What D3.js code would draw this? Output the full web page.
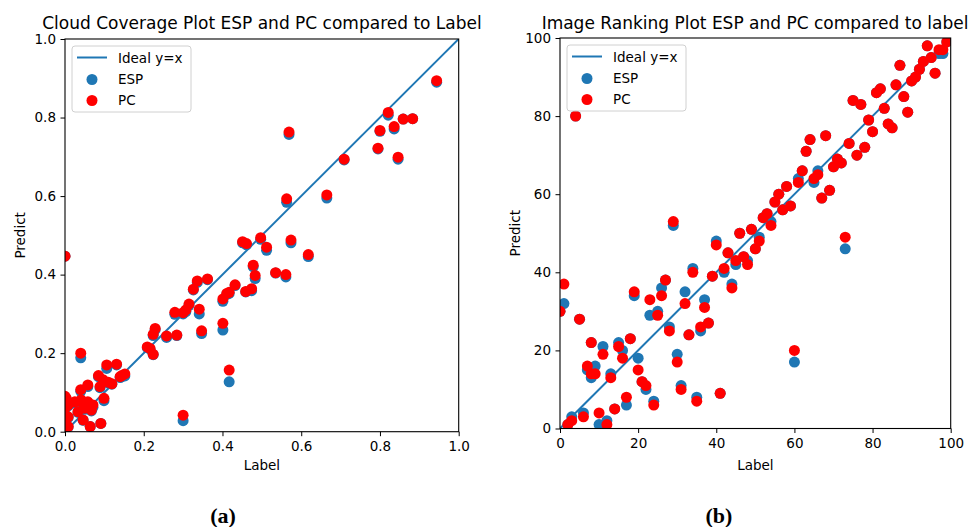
<!DOCTYPE html>
<html>
<head>
<meta charset="utf-8">
<script src="https://cdn.jsdelivr.net/npm/d3@7"></script>
<style>
  body { margin: 0; background: #fff; }
  svg text { font-family: "DejaVu Sans", sans-serif; fill: #000; }
  .caption { font-family: "Liberation Serif", serif; font-weight: bold; }
</style>
</head>
<body>
<script>
// (a) cloud coverage: label, ESP prediction, PC prediction
const labelA = [0.944, 0.821, 0.859, 0.883, 0.800, 0.836, 0.795, 0.846, 0.569, 0.709,
  0.563, 0.665, 0.574, 0.497, 0.451, 0.461, 0.512, 0.618, 0.478, 0.483,
  0.535, 0.561, 0.459, 0.474, 0.432, 0.411, 0.417, 0.401, 0.401, 0.417,
  0.362, 0.336, 0.326, 0.315, 0.341, 0.347, 0.300, 0.279, 0.229, 0.224,
  0.258, 0.284, 0.209, 0.216, 0.224, 0.040, 0.300, 0.106, 0.131, 0.144,
  0.152, 0.085, 0.097, 0.110, 0.119, 0.089, 0.058, 0.040, 0.099, 0.091,
  0.064, 0.008, 0.003, 0.008, 0.025, 0.041, 0.046, 0.058, 0.071, 0.050,
  0.067, 0.033, 0.008, 0.000, 0.046, 0.000, 0.000, 0.000, 0.000, 0.140,
  0.307];
const espA = [0.890, 0.806, 0.796, 0.797, 0.765, 0.771, 0.720, 0.694, 0.757, 0.692,
  0.584, 0.595, 0.481, 0.490, 0.481, 0.476, 0.462, 0.446, 0.420, 0.390,
  0.404, 0.394, 0.356, 0.359, 0.372, 0.350, 0.352, 0.332, 0.259, 0.127,
  0.387, 0.380, 0.361, 0.322, 0.300, 0.250, 0.300, 0.299, 0.260, 0.245,
  0.240, 0.245, 0.214, 0.210, 0.196, 0.188, 0.028, 0.161, 0.170, 0.140,
  0.142, 0.140, 0.128, 0.124, 0.121, 0.112, 0.115, 0.103, 0.079, 0.021,
  0.013, 0.012, 0.083, 0.066, 0.073, 0.078, 0.070, 0.073, 0.062, 0.057,
  0.053, 0.049, 0.036, 0.024, 0.029, 0.004, 0.447, 0.088, 0.058, 0.138,
  0.306];
const pcA = [0.894, 0.813, 0.796, 0.797, 0.767, 0.777, 0.722, 0.699, 0.763, 0.694,
  0.593, 0.603, 0.488, 0.494, 0.484, 0.479, 0.470, 0.451, 0.424, 0.398,
  0.405, 0.400, 0.357, 0.364, 0.374, 0.352, 0.355, 0.338, 0.276, 0.157,
  0.389, 0.384, 0.363, 0.325, 0.312, 0.257, 0.303, 0.304, 0.263, 0.248,
  0.244, 0.246, 0.216, 0.212, 0.197, 0.200, 0.042, 0.170, 0.172, 0.143,
  0.147, 0.143, 0.132, 0.126, 0.122, 0.115, 0.119, 0.107, 0.085, 0.021,
  0.013, 0.013, 0.085, 0.068, 0.076, 0.081, 0.072, 0.076, 0.068, 0.060,
  0.055, 0.051, 0.038, 0.025, 0.030, 0.004, 0.447, 0.090, 0.060, 0.140,
  0.310];
const ticksA = [0.0, 0.2, 0.4, 0.6, 0.8, 1.0];

// (b) image ranking: label, ESP prediction, PC prediction
const labelB = [0, 1, 2, 3, 4, 5, 6, 7, 8, 8, 9, 10, 11, 12, 13, 14, 15, 16, 17, 18,
  19, 20, 21, 22, 23, 24, 25, 26, 27, 28, 29, 30, 31, 32, 33, 34, 35, 36, 37, 38,
  39, 40, 41, 42, 43, 44, 45, 46, 47, 48, 49, 50, 51, 52, 53, 54, 55, 56, 57, 58,
  59, 60, 61, 62, 63, 64, 65, 66, 67, 68, 69, 70, 71, 72, 73, 74, 75, 76, 77, 78,
  79, 80, 81, 82, 83, 84, 85, 86, 87, 88, 89, 90, 91, 92, 93, 94, 95, 96, 97, 98, 99];
const espB = [30, 32, 1, 3, 80, 28, 4, 15, 22, 13, 16, 1, 21, 2, 14, 5, 22, 20, 6, 23,
  34, 18, 12, 10, 29, 7, 30, 36, 38, 26, 52, 19, 11, 35, 24, 41, 8, 25, 33, 27,
  39, 48, 9, 40, 45, 37, 42, 50, 44, 43, 51, 46, 49, 54, 55, 53, 58, 60, 56, 62,
  57, 17, 64, 66, 71, 74, 63, 66, 59, 75, 61, 67, 69, 68, 46, 73, 84, 70, 83, 72,
  79, 76, 86, 87, 82, 78, 77, 88, 93, 85, 81, 89, 90, 92, 94, 98, 95, 91, 96, 96, 99];
const pcB = [30, 37, 1, 2, 80, 28, 3, 16, 22, 14, 14, 4, 19, 1, 13, 5, 21, 18, 8, 23,
  35, 15, 12, 11, 33, 6, 29, 34, 38, 25, 53, 17, 10, 32, 24, 40, 7, 26, 31, 27,
  39, 47, 9, 41, 45, 36, 43, 50, 44, 42, 51, 46, 48, 54, 55, 52, 58, 60, 56, 62,
  57, 20, 63, 66, 71, 74, 64, 65, 59, 75, 61, 67, 69, 68, 49, 73, 84, 70, 83, 72,
  79, 76, 86, 87, 82, 78, 77, 88, 93, 85, 81, 89, 90, 92, 94, 98, 95, 91, 97, 97, 99];
const ticksB = [0, 20, 40, 60, 80, 100];

const colors = {
  esp: "#1f77b4",
  pc: "#ff0000",
  line: "#1f77b4",
  frame: "#d0d0d0"
};

const W = 970;
const H = 527;

const svg = d3.select("body")
  .append("svg")
  .attr("width", W)
  .attr("height", H);

function drawPanel(opts) {
  const { id, left, right, top, bottom, max, ticks, fmt, title, labels, esp, pc, titleX } = opts;

  const x = d3.scaleLinear().domain([0, max]).range([left, right]);
  const y = d3.scaleLinear().domain([0, max]).range([bottom, top]);

  const g = svg.append("g");

  g.append("clipPath")
    .attr("id", "clip-" + id)
    .append("rect")
    .attr("x", left)
    .attr("y", top)
    .attr("width", right - left)
    .attr("height", bottom - top);

  const plot = g.append("g").attr("clip-path", `url(#clip-${id})`);

  // ideal y=x line
  plot.append("line")
    .attr("x1", x(0))
    .attr("y1", y(0))
    .attr("x2", x(max))
    .attr("y2", y(max))
    .attr("stroke", colors.line)
    .attr("stroke-width", 2);

  const pts = labels.map((l, i) => ({ label: l, esp: esp[i], pc: pc[i] }));

  plot.selectAll("circle.esp")
    .data(pts)
    .enter()
    .append("circle")
    .attr("class", "esp")
    .attr("cx", d => x(d.label))
    .attr("cy", d => y(d.esp))
    .attr("r", 5.5)
    .attr("fill", colors.esp);

  plot.selectAll("circle.pc")
    .data(pts)
    .enter()
    .append("circle")
    .attr("class", "pc")
    .attr("cx", d => x(d.label))
    .attr("cy", d => y(d.pc))
    .attr("r", 5.5)
    .attr("fill", colors.pc);

  // axes
  const xAxis = d3.axisBottom(x).tickValues(ticks).tickFormat(fmt).tickSize(4.5).tickPadding(5);
  const yAxis = d3.axisLeft(y).tickValues(ticks).tickFormat(fmt).tickSize(4.5).tickPadding(4.5);

  g.append("g")
    .attr("transform", `translate(0,${bottom})`)
    .call(xAxis)
    .call(a => a.select(".domain").remove())
    .call(a => a.selectAll("line").attr("stroke", "#000"))
    .call(a => a.selectAll("text").style("font-size", "13.5px").attr("fill", "#000"));

  g.append("g")
    .attr("transform", `translate(${left},0)`)
    .call(yAxis)
    .call(a => a.select(".domain").remove())
    .call(a => a.selectAll("line").attr("stroke", "#000"))
    .call(a => a.selectAll("text").style("font-size", "13.5px").attr("fill", "#000"));

  // spines
  g.append("rect")
    .attr("x", left)
    .attr("y", top)
    .attr("width", right - left)
    .attr("height", bottom - top)
    .attr("fill", "none")
    .attr("stroke", "#000")
    .attr("stroke-width", 1.1);

  g.append("text")
    .text(title)
    .attr("x", titleX)
    .attr("y", 29)
    .attr("text-anchor", "middle")
    .style("font-size", "17px");

  g.append("text")
    .text("Label")
    .attr("x", (left + right) / 2)
    .attr("y", 470)
    .attr("text-anchor", "middle")
    .style("font-size", "13.5px");

  g.append("text")
    .text("Predict")
    .attr("text-anchor", "middle")
    .attr("transform", `translate(${left - 40},${(top + bottom) / 2}) rotate(-90)`)
    .style("font-size", "13.5px");

  // legend
  const lx = left + 7;
  const ly = top + 7;
  const leg = g.append("g").attr("transform", `translate(${lx},${ly})`);
  leg.append("rect")
    .attr("width", 119)
    .attr("height", 66)
    .attr("rx", 3)
    .attr("fill", "#fff")
    .attr("fill-opacity", 0.8)
    .attr("stroke", colors.frame)
    .attr("stroke-width", 1);
  leg.append("line")
    .attr("x1", 5).attr("x2", 35)
    .attr("y1", 11.5).attr("y2", 11.5)
    .attr("stroke", colors.line)
    .attr("stroke-width", 2);
  leg.append("circle").attr("cx", 20).attr("cy", 33.5).attr("r", 5.5).attr("fill", colors.esp);
  leg.append("circle").attr("cx", 20).attr("cy", 54.5).attr("r", 5.5).attr("fill", colors.pc);
  leg.selectAll("text")
    .data(["Ideal y=x", "ESP", "PC"])
    .enter()
    .append("text")
    .text(d => d)
    .attr("x", 46)
    .attr("y", (d, i) => 16.5 + i * 21)
    .style("font-size", "13.5px");
}

drawPanel({
  id: "a", left: 65, right: 458.7, top: 39, bottom: 431.7, max: 1,
  ticks: ticksA, fmt: d3.format(".1f"),
  title: "Cloud Coverage Plot ESP and PC compared to Label", titleX: 262,
  labels: labelA, esp: espA, pc: pcA
});

drawPanel({
  id: "b", left: 560, right: 950.7, top: 38, bottom: 428.5, max: 100,
  ticks: ticksB, fmt: d3.format("d"),
  title: "Image Ranking Plot ESP and PC compared to label", titleX: 755,
  labels: labelB, esp: espB, pc: pcB
});

svg.selectAll("text.caption")
  .data([["(a)", 223], ["(b)", 719]])
  .enter()
  .append("text")
  .attr("class", "caption")
  .text(d => d[0])
  .attr("x", d => d[1])
  .attr("y", 523)
  .attr("text-anchor", "middle")
  .style("font-size", "22px");
</script>
</body>
</html>
